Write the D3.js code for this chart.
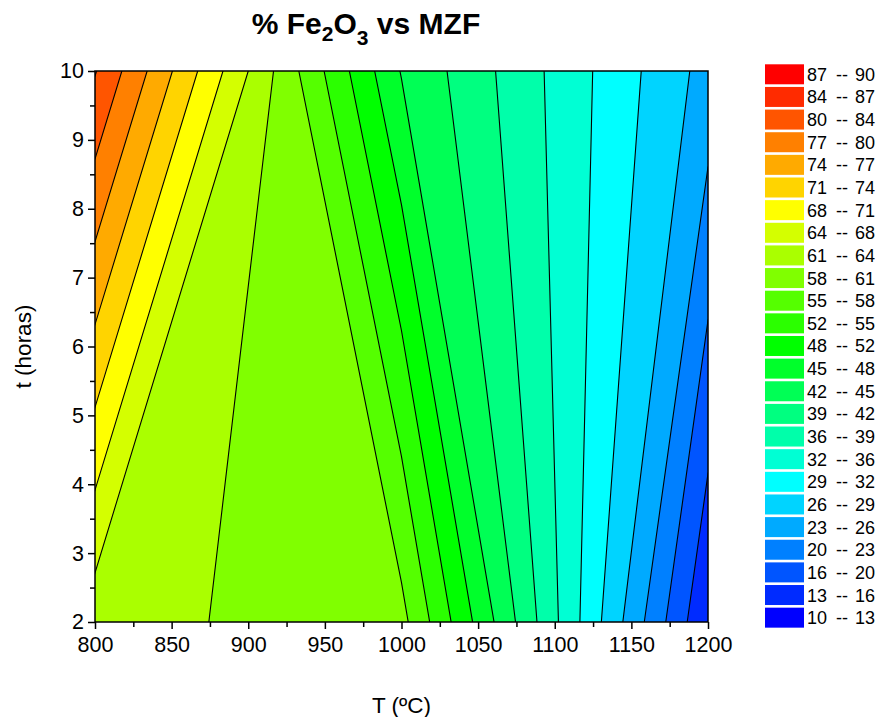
<!DOCTYPE html>
<html>
<head>
<meta charset="utf-8">
<script src="https://cdn.jsdelivr.net/npm/d3@7"></script>
<style>
  body { margin: 0; background: #fff; }
  text { font-family: Arial, "Liberation Sans", sans-serif; fill: #000; }
</style>
</head>
<body>
<svg id="chart" width="877" height="717"></svg>
<script>
// grid nodes of the measured matrix (T in ºC, t in horas)
const tempNodes = [800, 1000, 1200];
const timeNodes = [2, 10];
// % Fe2O3 at each node, one array per time row
const fe2o3At2h = [62.5, 59.0, 13.3];
const fe2o3At10h = [83.8, 45.0, 24.8];

// contour levels (Origin style, 25 bands from 10 to 90)
const levels = [10, 13.2, 16.4, 19.6, 22.8, 26, 29.2, 32.4, 35.6, 38.8, 42, 45.2, 48.4,
  51.6, 54.8, 58, 61.2, 64.4, 67.6, 70.8, 74, 77.2, 80.4, 83.6, 86.8, 90];
const bandColors = ["#0000ff", "#002bff", "#0055ff", "#0080ff", "#00aaff", "#00d4ff", "#00ffff",
  "#00ffd4", "#00ffaa", "#00ff80", "#00ff55", "#00ff2b", "#00ff00", "#2bff00", "#55ff00",
  "#80ff00", "#aaff00", "#d4ff00", "#ffff00", "#ffd400", "#ffaa00", "#ff8000", "#ff5500",
  "#ff2b00", "#ff0000"];

const xTicks = [800, 850, 900, 950, 1000, 1050, 1100, 1150, 1200];
const yTicks = [2, 3, 4, 5, 6, 7, 8, 9, 10];

const svg = d3.select("#chart");
const plotL = 95, plotR = 708, plotT = 71, plotB = 622;

const x = d3.scaleLinear().domain([800, 1200]).range([plotL, plotR]);
const y = d3.scaleLinear().domain([2, 10]).range([plotB, plotT]);

// d3.contours puts node i at grid coordinate i + 0.5
const gx = d3.scaleLinear().domain(tempNodes.map((d, i) => i + 0.5)).range(tempNodes);
const gy = d3.scaleLinear().domain(timeNodes.map((d, i) => i + 0.5)).range(timeNodes);

const values = fe2o3At2h.concat(fe2o3At10h);
const contours = d3.contours()
  .size([tempNodes.length, timeNodes.length])
  .thresholds(levels.slice(0, -1))(values);

const proj = d3.geoTransform({
  point: function (px, py) { this.stream.point(x(gx(px)), y(gy(py))); }
});
const path = d3.geoPath(proj);

svg.append("clipPath").attr("id", "plotclip")
  .append("rect")
  .attr("x", plotL).attr("y", plotT)
  .attr("width", plotR - plotL).attr("height", plotB - plotT);

const plot = svg.append("g").attr("clip-path", "url(#plotclip)");

plot.selectAll("path.band")
  .data(contours)
  .enter().append("path")
  .attr("class", "band")
  .attr("d", path)
  .attr("fill", (d, i) => bandColors[i])
  .attr("stroke", "none");

plot.selectAll("path.line")
  .data(contours.slice(1))
  .enter().append("path")
  .attr("class", "line")
  .attr("d", path)
  .attr("fill", "none")
  .attr("stroke", "#000")
  .attr("stroke-width", 1.1);

// axes
const xAxis = svg.append("g").attr("transform", `translate(0,${plotB})`)
  .call(d3.axisBottom(x).tickValues(xTicks).tickSize(7).tickPadding(8).tickFormat(d3.format("d")));
const xMinor = svg.append("g").attr("transform", `translate(0,${plotB})`)
  .call(d3.axisBottom(x).tickValues(d3.range(825, 1200, 50)).tickSize(5).tickFormat(""));
const yAxis = svg.append("g").attr("transform", `translate(${plotL},0)`)
  .call(d3.axisLeft(y).tickValues(yTicks).tickSize(7).tickPadding(4).tickFormat(d3.format("d")));
const yMinor = svg.append("g").attr("transform", `translate(${plotL},0)`)
  .call(d3.axisLeft(y).tickValues(d3.range(2.5, 10, 1)).tickSize(5).tickFormat(""));

[xAxis, xMinor, yAxis, yMinor].forEach(g => {
  g.select(".domain").remove();
  g.selectAll("line").attr("stroke", "#000").attr("stroke-width", 1.5);
  g.selectAll("text").style("font-size", "21.5px").attr("fill", "#000");
});

svg.append("rect")
  .attr("x", plotL).attr("y", plotT)
  .attr("width", plotR - plotL).attr("height", plotB - plotT)
  .attr("fill", "none").attr("stroke", "#000").attr("stroke-width", 1.5);

// titles
const title = svg.append("text")
  .attr("x", 366).attr("y", 34)
  .attr("text-anchor", "middle")
  .style("font-size", "30px").style("font-weight", "bold");
title.append("tspan").text("% Fe");
title.append("tspan").text("2").style("font-size", "21px").attr("dy", 7);
title.append("tspan").text("O").attr("dy", -7);
title.append("tspan").text("3").style("font-size", "21px").attr("dy", 11);
title.append("tspan").text(" vs MZF").attr("dy", -11);

svg.append("text")
  .attr("x", (plotL + plotR) / 2).attr("y", 713)
  .attr("text-anchor", "middle")
  .style("font-size", "22.5px")
  .text("T (ºC)");

svg.append("text")
  .attr("transform", `translate(31,${(plotT + plotB) / 2}) rotate(-90)`)
  .attr("text-anchor", "middle")
  .style("font-size", "22.5px")
  .text("t (horas)");

// legend, highest band on top
const fmt = d3.format(".0f");
const bands = d3.range(bandColors.length).reverse();
const legend = svg.append("g");
const step = 22.64;
bands.forEach((b, k) => {
  const yy = 64.3 + k * step;
  legend.append("rect")
    .attr("x", 765).attr("y", yy)
    .attr("width", 39).attr("height", 20)
    .attr("fill", bandColors[b]);
  const t = legend.append("text")
    .attr("y", yy + 16.5)
    .style("font-size", "18px");
  t.append("tspan").attr("x", 807).text(fmt(levels[b]));
  t.append("tspan").attr("x", 836).text("--");
  t.append("tspan").attr("x", 855).text(fmt(levels[b + 1]));
});
</script>
</body>
</html>
